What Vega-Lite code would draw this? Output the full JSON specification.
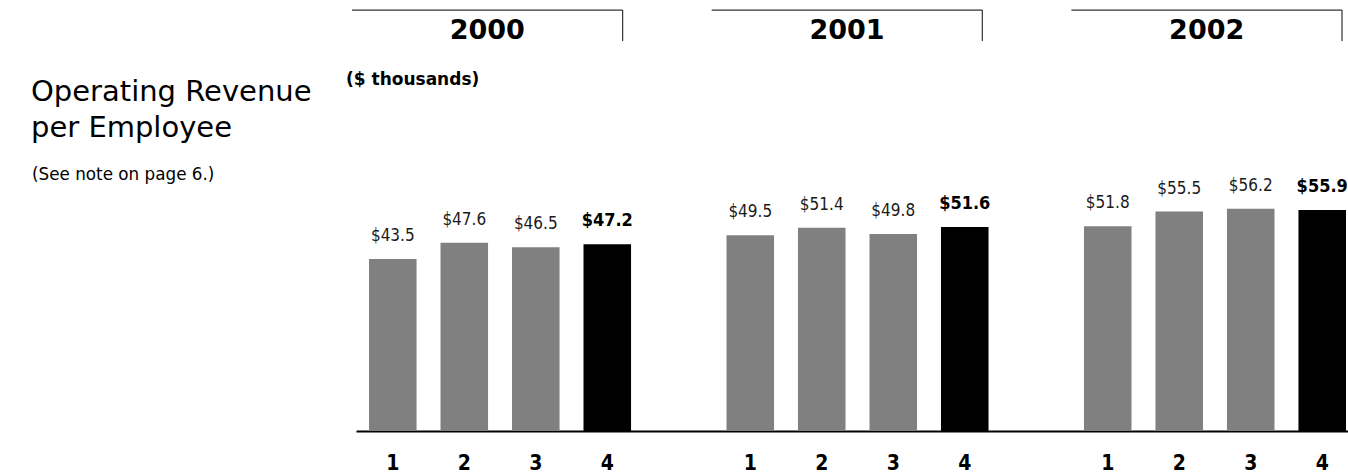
{
  "$schema": "https://vega.github.io/schema/vega-lite/v6.json",
  "width": 1348,
  "height": 431,
  "autosize": {"type": "none"},
  "padding": {"left": 0, "top": 0, "right": 0, "bottom": 43},
  "background": "white",
  "config": {"view": {"stroke": null}},
  "datasets": {
    "quarters": [
      {"year": "2000", "quarter": 1, "period": "2000 Q1", "value": 43.5},
      {"year": "2000", "quarter": 2, "period": "2000 Q2", "value": 47.6},
      {"year": "2000", "quarter": 3, "period": "2000 Q3", "value": 46.5},
      {"year": "2000", "quarter": 4, "period": "2000 Q4", "value": 47.2},
      {"year": "2001", "quarter": 1, "period": "2001 Q1", "value": 49.5},
      {"year": "2001", "quarter": 2, "period": "2001 Q2", "value": 51.4},
      {"year": "2001", "quarter": 3, "period": "2001 Q3", "value": 49.8},
      {"year": "2001", "quarter": 4, "period": "2001 Q4", "value": 51.6},
      {"year": "2002", "quarter": 1, "period": "2002 Q1", "value": 51.8},
      {"year": "2002", "quarter": 2, "period": "2002 Q2", "value": 55.5},
      {"year": "2002", "quarter": 3, "period": "2002 Q3", "value": 56.2},
      {"year": "2002", "quarter": 4, "period": "2002 Q4", "value": 55.9}
    ],
    "years": [
      {"year": "2000"},
      {"year": "2001"},
      {"year": "2002"}
    ]
  },
  "resolve": {"scale": {"x": "independent"}},
  "layer": [
    {
      "data": {"name": "quarters"},
      "encoding": {
        "x": {
          "field": "period",
          "type": "nominal",
          "scale": {
            "domain": ["2000 Q1", "2000 Q2", "2000 Q3", "2000 Q4", " ",
                       "2001 Q1", "2001 Q2", "2001 Q3", "2001 Q4", "  ",
                       "2002 Q1", "2002 Q2", "2002 Q3", "2002 Q4"],
            "range": [356, 1348],
            "paddingInner": 0.335,
            "paddingOuter": 0.105,
            "align": 0.867
          },
          "axis": {
            "title": null,
            "orient": "bottom",
            "labelAngle": 0,
            "labelExpr": "indexof(datum.value, 'Q') > 0 ? substring(datum.value, indexof(datum.value, 'Q') + 1) : ''",
            "labelFont": "Liberation Sans Narrow, DejaVu Sans Condensed, Roboto Condensed, Roboto, sans-serif",
            "labelFontWeight": "bold",
            "labelFontSize": 21,
            "labelColor": "#000000",
            "labelBaseline": "alphabetic",
            "labelPadding": 38,
            "ticks": false,
            "grid": false,
            "domainColor": "#000000",
            "domainWidth": 2
          }
        },
        "y": {
          "field": "value",
          "type": "quantitative",
          "scale": {"domain": [0, 109], "nice": false, "zero": true},
          "axis": null
        }
      },
      "layer": [
        {
          "mark": {"type": "bar"},
          "encoding": {
            "color": {
              "condition": {"test": "datum.quarter === 4", "value": "#000000"},
              "value": "#808080"
            }
          }
        },
        {
          "transform": [{"filter": "datum.quarter !== 4"}],
          "mark": {
            "type": "text",
            "font": "Liberation Sans Narrow, DejaVu Sans Condensed, Roboto Condensed, Roboto, sans-serif",
            "fontSize": 17,
            "baseline": "alphabetic",
            "align": "center",
            "dy": -18,
            "color": "#1a1a1a"
          },
          "encoding": {
            "text": {"field": "value", "type": "quantitative", "format": "$.1f"}
          }
        },
        {
          "transform": [{"filter": "datum.quarter === 4"}],
          "mark": {
            "type": "text",
            "font": "Liberation Sans Narrow, DejaVu Sans Condensed, Roboto Condensed, Roboto, sans-serif",
            "fontSize": 18,
            "fontWeight": "bold",
            "baseline": "alphabetic",
            "align": "center",
            "dy": -18,
            "color": "#000000"
          },
          "encoding": {
            "text": {"field": "value", "type": "quantitative", "format": "$.1f"}
          }
        }
      ]
    },
    {
      "data": {"name": "years"},
      "encoding": {
        "x": {
          "field": "year",
          "type": "nominal",
          "scale": {
            "domain": ["2000", "2001", "2002"],
            "range": [352, 1342],
            "paddingInner": 0.2476,
            "paddingOuter": 0
          },
          "axis": null
        }
      },
      "layer": [
        {
          "mark": {
            "type": "text",
            "font": "DejaVu Sans",
            "fontWeight": "bold",
            "fontSize": 27,
            "baseline": "alphabetic",
            "align": "center",
            "color": "#000000",
            "y": 39
          },
          "encoding": {"text": {"field": "year", "type": "nominal"}}
        },
        {
          "mark": {"type": "bar", "color": "#333333", "y": 9.5, "y2": 10.7}
        },
        {
          "mark": {"type": "rule", "color": "#333333", "strokeWidth": 1.2, "y": 10, "y2": 41},
          "encoding": {
            "x": {"field": "year", "type": "nominal", "bandPosition": 1}
          }
        }
      ]
    },
    {
      "mark": {"type": "rule", "color": "#333333", "strokeWidth": 1.2, "x": 11, "x2": 1342, "y": 58.5, "y2": 58.5},
      "encoding": {}
    },
    {
      "mark": {"type": "rule", "color": "#333333", "strokeWidth": 1.2, "x": 11.5, "x2": 11.5, "y": 58, "y2": 170},
      "encoding": {}
    },
    {
      "data": {"values": [{"line": "Operating Revenue"}]},
      "mark": {
        "type": "text",
        "text": ["Operating Revenue", "per Employee"],
        "font": "DejaVu Sans",
        "fontSize": 29,
        "lineHeight": 36,
        "align": "left",
        "baseline": "alphabetic",
        "color": "#000000",
        "x": 31,
        "y": 101
      },
      "encoding": {}
    },
    {
      "data": {"values": [{"note": "(See note on page 6.)"}]},
      "mark": {
        "type": "text",
        "font": "DejaVu Sans",
        "fontSize": 16.8,
        "align": "left",
        "baseline": "alphabetic",
        "color": "#000000",
        "x": 32,
        "y": 180
      },
      "encoding": {"text": {"field": "note", "type": "nominal"}}
    },
    {
      "data": {"values": [{"unit": "($ thousands)"}]},
      "mark": {
        "type": "text",
        "font": "DejaVu Sans",
        "fontWeight": "bold",
        "fontSize": 17,
        "align": "left",
        "baseline": "alphabetic",
        "color": "#000000",
        "x": 346,
        "y": 85
      },
      "encoding": {"text": {"field": "unit", "type": "nominal"}}
    }
  ]
}
